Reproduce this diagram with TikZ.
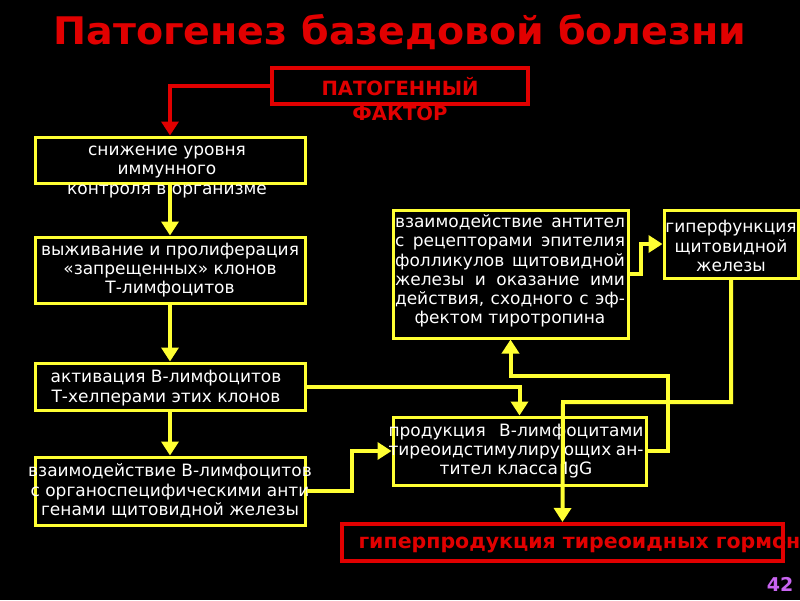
\documentclass[tikz,border=0pt]{standalone}
\usepackage{fontspec}
\setmainfont{DejaVu Sans}
\newfontfamily\titlefont[FakeStretch=1.04]{DejaVu Sans}
\usetikzlibrary{arrows.meta,calc}
\definecolor{yel}{RGB}{255,255,51}
\definecolor{redd}{RGB}{225,0,0}
\definecolor{lila}{RGB}{200,100,240}
\newcommand{\jl}[1]{\makebox[230pt][s]{#1}}
\newcommand{\jp}[1]{\makebox[255pt][s]{#1}}
\tikzset{>={Triangle[length=14pt,width=17pt]}}

\begin{document}
\begin{tikzpicture}[x=1pt,y=-1pt,
    ybox/.style={draw=yel, line width=3pt, fill=black, inner sep=0pt},
    rbox/.style={draw=redd, line width=4pt, inner sep=0pt},
    wtxt/.style={text=white, align=center, font=\fontsize{17}{19.3}\selectfont},
    yarr/.style={draw=yel, line width=4pt, ->},
    rarr/.style={draw=redd, line width=4pt, ->}]
    \fill[black] (0,0) rectangle (800,600);
    \clip (0,0) rectangle (800,600);

    \node[text=redd, font=\titlefont\bfseries\fontsize{38}{40}\selectfont] (title) at (400,32) {Патогенез базедовой болезни};

    \node[rbox, minimum width=256, minimum height=36] (fac) at (400,86) {};
    \node[text=redd, align=center, font=\bfseries\fontsize{19.6}{24.5}\selectfont] (factxt) at (400,99) {ПАТОГЕННЫЙ\\ФАКТОР};

    \node[ybox, minimum width=270, minimum height=46] (snizh) at (170,160) {};
    \node[ybox, minimum width=270, minimum height=66] (vyzh) at (170,270) {};
    \node[ybox, minimum width=270, minimum height=47] (aktiv) at (170,386.5) {};
    \node[ybox, minimum width=270, minimum height=68] (vzB) at (170,491) {};
    \node[ybox, minimum width=253, minimum height=68] (prod) at (519.5,451) {};
    \node[ybox, minimum width=235, minimum height=128] (vzAt) at (510.5,274) {};
    \node[ybox, minimum width=134, minimum height=68] (giper) at (731,244) {};
    \node[rbox, minimum width=441, minimum height=37] (gormon) at (562.5,542.5) {};

    \node[wtxt] (snizhtxt) at (167,172) {снижение уровня\\иммунного\\контроля в организме};
    \node[wtxt] (vyzhtxt) at (170,270) {выживание и пролиферация\\«запрещенных» клонов\\Т-лимфоцитов};
    \node[wtxt] (aktivtxt) at (166,388) {активация В-лимфоцитов\\Т-хелперами этих клонов};
    \node[wtxt] (vzBtxt) at (170,491) {взаимодействие В-лимфоцитов\\с органоспецифическими анти\\генами щитовидной железы};
    \node[wtxt] (prodtxt) at (516,451) {\jp{продукция В-лимфоцитами}\\\jp{тиреоидстимулирующих ан-}\\тител класса IgG};
    \node[wtxt] (vzAttxt) at (510,271) {\jl{взаимодействие антител}\\\jl{с рецепторами эпителия}\\\jl{фолликулов щитовидной}\\\jl{железы и оказание ими}\\\jl{действия, сходного с эф-}\\фектом тиротропина};
    \node[wtxt] (gipertxt) at (731,246) {гиперфункция\\щитовидной\\железы};
    \node[anchor=west, text=redd, font=\bfseries\fontsize{20.5}{22}\selectfont] (gormontxt) at (355,545) {гиперпродукция тиреоидных гормонов};
    \node[text=lila, font=\bfseries\fontsize{19}{21}\selectfont] (num) at (780,584) {42};

    \draw[rarr] (fac.west) -| (snizh.north);
    \foreach \a/\b in {snizh/vyzh,vyzh/aktiv,aktiv/vzB}
        \draw[yarr] (\a.south) -- (\b.north);
    \draw[yarr] (aktiv.east) -| (prod.north);
    \draw[yarr] (vzB.east) -- ++(45,0) |- (prod.west);
    \coordinate (k1) at (668,376);
    \draw[yarr] (prod.east) -| (k1) -| (vzAt.south);
    \draw[yarr] (vzAt.east) -- ++(11,0) |- (giper.west);
    \coordinate (k2) at (563,402);
    \draw[yarr] (giper.south) |- (k2) -- (gormon.north);
\end{tikzpicture}
\end{document}
